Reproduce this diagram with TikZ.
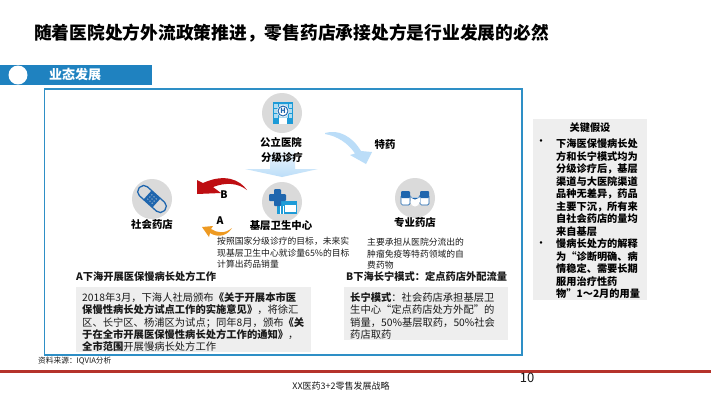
\documentclass[tikz,border=0pt]{standalone}
\usepackage{fontspec}
\setmainfont{Noto Sans CJK SC}
\definecolor{bandblue}{HTML}{1F82C0}
\definecolor{boxblue}{HTML}{2E8FC6}
\definecolor{iconblue}{HTML}{1E9BD7}
\definecolor{deepblue}{HTML}{1F66AE}
\definecolor{discgrey}{HTML}{DADADA}
\definecolor{panelgrey}{HTML}{EEEEEE}
\definecolor{paleblue}{HTML}{BBDDF8}
\definecolor{rulered}{HTML}{B5332B}
\definecolor{arrowred}{HTML}{BE0E12}
\definecolor{arroworange}{HTML}{EE9A22}
\definecolor{inktext}{HTML}{1A1A1A}
\tikzset{
  blockA/.style={inner sep=0pt,text=inktext,anchor=north west,align=left,font=\fontsize{8.8}{11.6}\selectfont},
  blockB/.style={inner sep=0pt,text=inktext,anchor=north west,align=left,font=\fontsize{10.3}{12.3}\selectfont},
  keyblock/.style={inner sep=0pt,anchor=north west,align=left,text=black,font=\fontsize{10.2}{12.5}\selectfont\bfseries},
  headtext/.style={inner sep=0pt,anchor=west,text=inktext,font=\fontsize{10.25}{10.25}\selectfont\bfseries},
  bulletmark/.style={inner sep=0pt,text=black,font=\fontsize{12}{12}\selectfont},
  disc/.style={circle,fill=discgrey,minimum size=40pt,inner sep=0pt},
  panel/.style={fill=panelgrey,draw=none},
  label/.style={inner sep=0pt,text=black,font=\fontsize{10.4}{10.4}\selectfont\bfseries},
}
\begin{document}
\begin{tikzpicture}[x=1pt,y=-1pt]
\useasboundingbox (0,0) rectangle (711,400);
\fill[white] (0,0) rectangle (711,400);
% title
\node[inner sep=0pt,anchor=west,text=black,font=\fontsize{17.75}{18}\selectfont\bfseries] (title) at (34,33) {随着医院处方外流政策推进，零售药店承接处方是行业发展的必然};
% band
\fill[bandblue] (0,65) rectangle (152,85);
\fill[white] (18,75) circle (9.5);
\node[inner sep=0pt,anchor=west,text=white,font=\fontsize{13}{13}\selectfont\bfseries] (band) at (49,75) {业态发展};
% main frame
\draw[boxblue,line width=1.2pt] (44.5,89) rectangle (522,355);
% rules
\fill[rulered] (0,370) rectangle (711,372.5);
% grey panels
\fill[panel] (76,287) rectangle (311,352);
\fill[panel] (344,287) rectangle (508,340);
\fill[panel] (533,119) rectangle (647,300);
% pale down arrow
\shade[top color=white,bottom color=paleblue,middle color=paleblue!55]
  (270,145) -- (295,145) -- (295,169) -- (318,169) -- (282,177) -- (245,169) -- (270,169) -- cycle;
% pale curved arrow
\fill[paleblue] (325,133) .. controls (338,129) and (352,136) .. (361,151) -- (372,152) -- (366,164) -- (350,155) -- (355,153.5) .. controls (348,143) and (337,136) .. (325,134) -- cycle;
% discs
\node[disc] (hosp) at (282,113) {};
\node[disc] (social) at (152,199) {};
\node[disc] (grass) at (282,202) {};
\node[disc] (special) at (415,198) {};
% hospital icon
\fill[iconblue] (273,102) rectangle (293,124);
\fill[iconblue!35] (274,103.5) rectangle (292,118);
\foreach \yy in {108,113}{\draw[iconblue,line width=.5pt] (274,\yy) -- (292,\yy);}
\foreach \xx in {278,288}{\draw[iconblue,line width=.5pt] (\xx,103.5) -- (\xx,118);}
\fill[white] (279,118) rectangle (287,124);
\fill[white] (283,111) circle (6);
\draw[deepblue,line width=1pt] (283,111) circle (5);
\node[inner sep=0pt,text=deepblue,font=\fontsize{7}{7}\selectfont\bfseries] (hicon) at (283,111) {H};
% bandage icon
\begin{scope}[shift={(152,199)},rotate=-42]
\draw[deepblue,line width=1.3pt,fill=discgrey,rounded corners=5.5pt] (-17,-6) rectangle (17,6);
\fill[deepblue] (-6,-6) rectangle (6,6);
\foreach \xx in {-3,0,3}{\foreach \yy in {-3,0,3}{\fill[discgrey] (\xx,\yy) circle (.7);}}
\end{scope}
% grassroots icon
\fill[iconblue] (277,201) rectangle (297,213.5);
\fill[white] (285,205) rectangle (296,212);
\fill[white] (280,206) rectangle (281,213.5);
\fill[white] (283,206) rectangle (284,213.5);
\fill[deepblue,rounded corners=1pt] (274,189) rectangle (281,206);
\fill[deepblue,rounded corners=1pt] (269,194) rectangle (286,201);
% pill icon
\foreach \xx in {401,420}{
  \fill[white,draw=deepblue,line width=.7pt,rounded corners=1.5pt] (\xx,195) rectangle (\xx+9,205);
  \fill[deepblue,rounded corners=1pt] (\xx,191) rectangle (\xx+9,198);
}
\fill[white] (410.5,197) rectangle (419.5,202);
\fill[white] (415,202) circle (4.5);
\fill[deepblue] (410.5,197.5) -- (410.5,195) arc (180:0:4.5) -- (419.5,197.5) -- cycle;
% red arrow
\fill[arrowred] (247,190) .. controls (240,180) and (225,173) .. (203,183) -- (197,180) -- (197,194) -- (221,193) -- (213,187) .. controls (226,182) and (238,183) .. (247,190) -- cycle;
% orange arrow
\fill[arroworange] (232,228) .. controls (225,234) and (217,233) .. (211,229) -- (213,226) -- (202,227) -- (209,237) -- (210,233) .. controls (218,238) and (227,236) .. (232,228) -- cycle;
% node labels
\node[label] (lhosp) at (281,142) {公立医院};
\node[label] (lfen) at (282,158) {分级诊疗};
\node[label] (lte) at (385,145) {特药};
\node[label] (lsoc) at (152,224) {社会药店};
\node[label] (lgra) at (281,226) {基层卫生中心};
\node[label] (lspe) at (415,223) {专业药店};
\node[label] (lB) at (224,195) {B};
\node[label] (lA) at (220,221) {A};
% blocks
\node[blockA] (noteA) at (217,237) {按照国家分级诊疗的目标，未来实\\现基层卫生中心就诊量65\%的目标\\计算出药品销量};
\node[blockA] (noteB) at (367,238) {主要承担从医院分流出的\\肿瘤免疫等特药领域的自\\费药物};
\node[headtext] (headA) at (76,277) {A下海开展医保慢病长处方工作};
\node[headtext] (headB) at (346,277) {B下海长宁模式：定点药店外配流量};
\node[blockB] (bodyA) at (82,292.3) {2018年3月，下海人社局颁布\textbf{《关于开展本市医}\\\textbf{保慢性病长处方试点工作的实施意见》}，将徐汇\\区、长宁区、杨浦区为试点；同年8月，颁布\textbf{《关}\\\textbf{于在全市开展医保慢性病长处方工作的通知》}，\\\textbf{全市范围}开展慢病长处方工作};
\node[blockB] (bodyB) at (350,292.3) {\textbf{长宁模式}：社会药店承担基层卫\\生中心“定点药店处方外配”的\\销量，50\%基层取药，50\%社会\\药店取药};
% assumptions
\node[label,font=\fontsize{10.2}{10.2}\selectfont\bfseries] (keyhead) at (590,128) {关键假设};
\node[bulletmark] (bul1) at (541,143) {•};
\node[bulletmark] (bul2) at (541,245) {•};
\node[keyblock] (key1) at (556,138.5) {下海医保慢病长处\\方和长宁模式均为\\分级诊疗后，基层\\渠道与大医院渠道\\品种无差异，药品\\主要下沉，所有来\\自社会药店的量均\\来自基层};
\node[keyblock] (key2) at (556,238.5) {慢病长处方的解释\\为“诊断明确、病\\情稳定、需要长期\\服用治疗性药\\物”1～2月的用量};
% footer
\node[inner sep=0pt,anchor=west,text=inktext,font=\fontsize{7.7}{7.7}\selectfont] (src) at (38,361) {资料来源：IQVIA分析};
\node[inner sep=0pt,text=inktext,font=\fontsize{9}{9}\selectfont] (foot) at (341,386) {XX医药3+2零售发展战略};
\node[inner sep=0pt,text=inktext,font=\fontsize{13}{13}\selectfont] (page) at (527,378) {10};
\end{tikzpicture}
\end{document}
